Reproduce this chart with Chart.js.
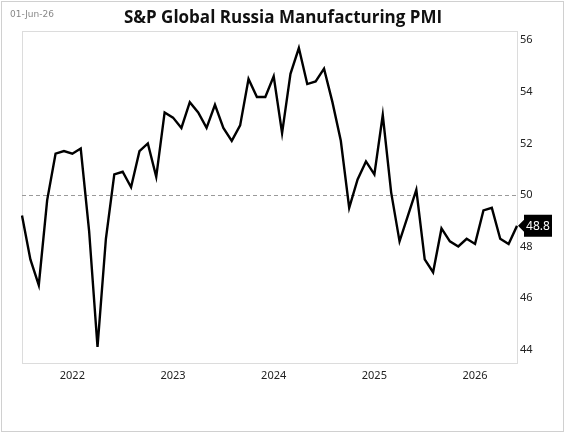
<!DOCTYPE html>
<html>
<head>
<meta charset="utf-8">
<script src="https://cdn.jsdelivr.net/npm/chart.js@4/dist/chart.umd.min.js"></script>
<style>
  html, body { margin: 0; padding: 0; background: #fff; }
  #wrap { position: relative; width: 566px; height: 434px; }
</style>
</head>
<body>
<div id="wrap"><canvas id="pmiChart" width="566" height="434"></canvas></div>
<script>
// monthly readings, Jul 2021 .. Jun 2026
var months = [
  '2021-07','2021-08','2021-09','2021-10','2021-11','2021-12',
  '2022-01','2022-02','2022-03','2022-04','2022-05','2022-06','2022-07','2022-08','2022-09','2022-10','2022-11','2022-12',
  '2023-01','2023-02','2023-03','2023-04','2023-05','2023-06','2023-07','2023-08','2023-09','2023-10','2023-11','2023-12',
  '2024-01','2024-02','2024-03','2024-04','2024-05','2024-06','2024-07','2024-08','2024-09','2024-10','2024-11','2024-12',
  '2025-01','2025-02','2025-03','2025-04','2025-05','2025-06','2025-07','2025-08','2025-09','2025-10','2025-11','2025-12',
  '2026-01','2026-02','2026-03','2026-04','2026-05','2026-06'
];
var pmi = [
  49.2, 47.5, 46.5, 49.8, 51.6, 51.7,
  51.6, 51.8, 48.6, 44.1, 48.3, 50.8, 50.9, 50.3, 51.7, 52.0, 50.7, 53.2,
  53.0, 52.6, 53.6, 53.2, 52.6, 53.5, 52.6, 52.1, 52.7, 54.5, 53.8, 53.8,
  54.6, 52.4, 54.7, 55.7, 54.3, 54.4, 54.9, 53.6, 52.1, 49.5, 50.6, 51.3,
  50.8, 53.1, 50.1, 48.2, 49.2, 50.2, 47.5, 47.0, 48.7, 48.2, 48.0, 48.3,
  48.1, 49.4, 49.5, 48.3, 48.1, 48.8
];
var yTicks = [44, 46, 48, 50, 52, 54, 56];
var yearLabels = ['2022', '2023', '2024', '2025', '2026'];
var refLevel = 50;

var frame = {
  id: 'frame',
  beforeDraw: function (chart) {
    var c = chart.ctx;
    c.save();
    c.fillStyle = '#fff';
    c.fillRect(0, 0, chart.width, chart.height);
    c.strokeStyle = '#d0d0d0';
    c.lineWidth = 1;
    c.strokeRect(1.5, 1.5, chart.width - 4, chart.height - 4);
    var a = chart.chartArea;
    c.strokeStyle = '#dcdcdc';
    c.strokeRect(a.left + 0.5, a.top + 0.5, a.right - a.left, a.bottom - a.top);
    // 50 line
    var y = Math.round(chart.scales.y.getPixelForValue(refLevel)) + 0.5;
    c.strokeStyle = '#9a9a9a';
    c.setLineDash([4, 3]);
    c.beginPath();
    c.moveTo(a.left, y);
    c.lineTo(a.right, y);
    c.stroke();
    c.setLineDash([]);
    // title + date
    c.fillStyle = '#111';
    c.font = 'bold 17px "Open Sans"';
    c.textAlign = 'center';
    c.textBaseline = 'alphabetic';
    c.fillText('S&P Global Russia Manufacturing PMI', 283, 23);
    c.fillStyle = '#888';
    c.font = '9px "DejaVu Sans"';
    c.textAlign = 'left';
    c.textBaseline = 'middle';
    c.fillText('01-Jun-26', 10, 15);
    c.restore();
  },
  afterDraw: function (chart) {
    var c = chart.ctx;
    var last = pmi.length - 1;
    var x = chart.scales.x.getPixelForValue(last);
    var y = chart.scales.y.getPixelForValue(pmi[last]);
    c.save();
    c.fillStyle = '#000';
    c.beginPath();
    c.moveTo(x + 1, y);
    c.lineTo(x + 7, y - 6);
    c.lineTo(x + 7, y - 11);
    c.lineTo(x + 35, y - 11);
    c.lineTo(x + 35, y + 11);
    c.lineTo(x + 7, y + 11);
    c.lineTo(x + 7, y + 6);
    c.closePath();
    c.fill();
    c.fillStyle = '#fff';
    c.font = '12px "Noto Sans"';
    c.textAlign = 'center';
    c.textBaseline = 'middle';
    c.fillText(pmi[last].toFixed(1), x + 21, y + 1);
    c.restore();
  }
};

new Chart(document.getElementById('pmiChart'), {
  type: 'line',
  data: {
    labels: months,
    datasets: [{
      data: pmi,
      borderColor: '#000',
      borderWidth: 2.4,
      pointRadius: 0,
      tension: 0,
      fill: false
    }]
  },
  options: {
    responsive: false,
    animation: false,
    layout: { padding: { left: 22, top: 31, right: 0, bottom: 0 } },
    plugins: { legend: { display: false }, tooltip: { enabled: false } },
    scales: {
      x: {
        offset: false,
        grid: { display: false, drawTicks: false },
        border: { display: false },
        afterFit: function (s) { s.height = 71; },
        ticks: {
          autoSkip: false,
          maxRotation: 0,
          padding: 6,
          color: '#222',
          font: { family: 'Noto Sans', size: 11 },
          callback: function (v, i) {
            var m = months[i];
            if (m.slice(5) !== '01') return '';
            var yr = m.slice(0, 4);
            return yearLabels.indexOf(yr) >= 0 ? yr : '';
          }
        }
      },
      y: {
        position: 'right',
        min: 43.48,
        max: 56.36,
        grid: { display: false, drawTicks: false },
        border: { display: false },
        afterFit: function (s) { s.width = 49; },
        afterBuildTicks: function (s) {
          s.ticks = yTicks.map(function (v) { return { value: v }; });
        },
        ticks: {
          padding: 3,
          color: '#222',
          font: { family: 'Noto Sans', size: 11 }
        }
      }
    }
  },
  plugins: [frame]
});
</script>
</body>
</html>
